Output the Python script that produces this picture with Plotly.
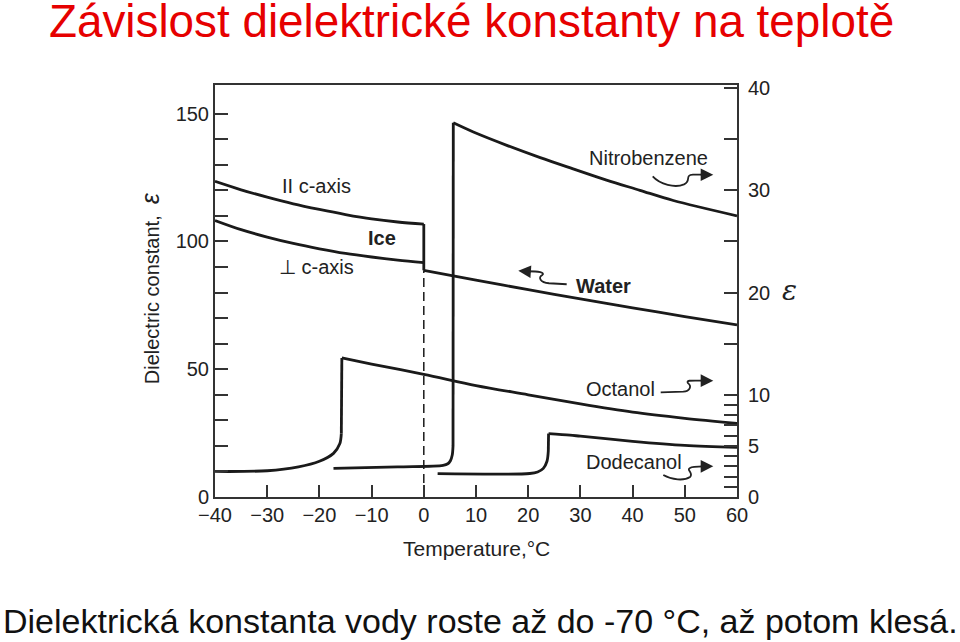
import plotly.graph_objects as go

# ---------------- data ----------------
# Ice (left axis, dielectric constant)
ice_par_t = [-40, -35, -30, -25, -20, -15, -10, -5, 0]
ice_par_e = [123.5, 120.2, 117.3, 114.7, 112.5, 110.5, 108.8, 107.6, 106.8]
ice_perp_t = [-40, -35, -30, -25, -20, -15, -10, -5, 0]
ice_perp_e = [108.2, 104.6, 101.7, 99.2, 97.1, 95.3, 93.9, 92.7, 91.7]
# Water (left axis)
water_t = [0, 10, 20, 30, 40, 50, 60]
water_e = [88.7, 84.9, 81.1, 77.5, 74.0, 70.6, 67.3]
# Nitrobenzene (right axis): solid branch, then liquid branch
nitro_solid_t = [-17.3, -5, 3.7, 4.6, 5.1, 5.45, 5.6]
nitro_solid_e = [2.8, 2.95, 3.1, 3.25, 3.55, 4.1, 5.0]
nitro_liq_t = [5.65, 9.5, 15.9, 22.3, 28.6, 35.0, 41.4, 47.8, 60]
nitro_liq_e = [36.6, 35.7, 34.4, 33.2, 32.1, 31.0, 30.0, 29.0, 27.5]
# Octanol (right axis)
oct_solid_t = [-40, -30, -24, -20, -17.3, -16.1, -15.8]
oct_solid_e = [2.5, 2.57, 2.95, 3.5, 4.27, 5.2, 6.2]
oct_liq_t = [-15.7, -10, 0, 10, 20, 30, 40, 50, 60]
oct_liq_e = [13.6, 13.0, 12.0, 10.9, 10.0, 9.1, 8.3, 7.7, 7.2]
# Dodecanol (right axis)
dod_solid_t = [2.65, 20.3, 21.8, 22.9, 23.6, 23.85]
dod_solid_e = [2.28, 2.3, 2.45, 2.8, 3.5, 4.5]
dod_liq_t = [23.9, 28, 30, 40, 50, 60]
dod_liq_e = [6.2, 6.05, 5.95, 5.45, 5.05, 4.85]

x_ticks = [-40, -30, -20, -10, 0, 10, 20, 30, 40, 50, 60]
x_ticktext = ["\u221240", "\u221230", "\u221220", "\u221210", "0", "10", "20", "30", "40", "50", "60"]
y_left_ticks = [0, 50, 100, 150]
y_left_minor = [10, 20, 30, 40, 60, 70, 80, 90, 110, 120, 130, 140]
y_right_ticks = [0, 5, 10, 20, 30, 40]
y_right_minor = [1, 2, 3, 4, 6, 7, 8, 9, 15, 25, 35]

# ---------------- layout constants ----------------
W, H = 960, 642
X0, X1 = 215, 737      # plot area left/right in px
YB, YT = 497, 84.5     # plot area bottom/top in px
LEFT_MAX = 161.2
RIGHT_MAX = LEFT_MAX / 4

FONT = "Liberation Sans, Arial, sans-serif"
AX = "#333333"
LC = "#1a1a1a"
LW = 2.8


def px(x):
    return (x - X0) / (X1 - X0)


def py(y):
    return (YB - y) / (YB - YT)


fig = go.Figure()


def curve(t, e, axis="y", smooth=True):
    fig.add_trace(go.Scatter(x=t, y=e, mode="lines", yaxis=axis, hoverinfo="skip",
                             line=dict(color=LC, width=LW,
                                       shape="spline" if smooth else "linear",
                                       smoothing=0.9 if smooth else None)))


def jump(t1, e1, t2, e2, axis="y"):
    # vertical/steep connector between two branches (phase transition)
    curve([t1[-1], t2[0]], [e1[-1], e2[0]], axis, smooth=False)


curve(ice_par_t, ice_par_e)
curve(ice_perp_t, ice_perp_e)
curve(water_t, water_e)
jump(ice_par_t, ice_par_e, water_t, water_e)

curve(nitro_solid_t, nitro_solid_e, "y2")
jump(nitro_solid_t, nitro_solid_e, nitro_liq_t, nitro_liq_e, "y2")
curve(nitro_liq_t, nitro_liq_e, "y2")

curve(oct_solid_t, oct_solid_e, "y2")
jump(oct_solid_t, oct_solid_e, oct_liq_t, oct_liq_e, "y2")
curve(oct_liq_t, oct_liq_e, "y2")

curve(dod_solid_t, dod_solid_e, "y2")
jump(dod_solid_t, dod_solid_e, dod_liq_t, dod_liq_e, "y2")
curve(dod_liq_t, dod_liq_e, "y2")

# dashed melting line of ice at 0 °C
fig.add_trace(go.Scatter(x=[0, 0], y=[0, water_e[0]], mode="lines", hoverinfo="skip",
                         line=dict(color=LC, width=1.5, dash="9px,5px")))

tickfont = dict(family=FONT, size=20, color="#222")
fig.update_layout(
    width=W, height=H, autosize=False,
    margin=dict(l=X0, r=W - X1, t=YT, b=H - YB, pad=0),
    paper_bgcolor="white", plot_bgcolor="white",
    showlegend=False,
    font=dict(family=FONT, color="#222"),
    xaxis=dict(range=[-40, 60], tickvals=x_ticks, ticktext=x_ticktext, ticks="inside",
               ticklen=12, tickwidth=2, tickcolor=AX, showline=True, linecolor=AX,
               linewidth=2, mirror=True, showgrid=False, zeroline=False, tickfont=tickfont,
               ticklabelstandoff=-1),
    yaxis=dict(range=[0, LEFT_MAX], tickvals=y_left_ticks, ticks="inside", ticklen=13,
               tickwidth=2, tickcolor=AX, showline=True, linecolor=AX, linewidth=2,
               mirror=True, showgrid=False, zeroline=False, tickfont=tickfont,
               minor=dict(tickvals=y_left_minor, ticks="inside", ticklen=13, tickwidth=2,
                          tickcolor=AX, showgrid=False)),
    yaxis2=dict(range=[0, RIGHT_MAX], tickvals=y_right_ticks, overlaying="y", side="right",
                ticks="inside", ticklen=13, tickwidth=2, tickcolor=AX, showline=True,
                linecolor=AX, linewidth=2, showgrid=False, zeroline=False, tickfont=tickfont,
                ticklabelstandoff=5,
                minor=dict(tickvals=y_right_minor, ticks="inside", ticklen=13, tickwidth=2,
                           tickcolor=AX, showgrid=False)),
)

ann = []


def text(x, y, s, size=20, bold=False, color="#222", angle=0, family=FONT):
    if bold:
        s = "<b>" + s + "</b>"
    ann.append(dict(x=px(x), y=py(y), xref="paper", yref="paper", text=s, showarrow=False,
                    xanchor="center", yanchor="middle", textangle=angle,
                    font=dict(family=family, size=size, color=color)))


# titles
text(471.5, 21, "Závislost dielektrické konstanty na teplotě", size=45.8, color="#e60000")
text(480, 621, "Dielektrická konstanta vody roste až do -70 °C, až potom klesá.", size=34, color="#111")
# axis titles
text(476, 549, "Temperature,°C", size=21)
text(150, 288, "Dielectric constant,  <i><span style='font-size:25px'>ε</span></i>", size=20, angle=-90)
text(789, 290, "<i>ε</i>", size=28, family="DejaVu Serif, serif")
# curve labels
text(316, 186, "II c-axis", size=20)
text(316, 267, "⊥ c-axis", size=20)
text(382, 238, "Ice", size=20, bold=True)
text(648, 158, "Nitrobenzene", size=20)
text(603, 286, "Water", size=20, bold=True)
text(620, 389, "Octanol", size=20)
text(634, 462, "Dodecanol", size=20)


def arrowhead(x, y, dx, dy):
    ann.append(dict(x=px(x), y=py(y), xref="paper", yref="paper", ax=dx, ay=dy,
                    axref="pixel", ayref="pixel", showarrow=True, arrowhead=2,
                    arrowsize=1.4, arrowwidth=1.8, arrowcolor="#222", standoff=0, text=""))


arrowhead(713.3, 174.3, -14, 0)
arrowhead(518.3, 270.5, 14, 1)
arrowhead(713.3, 380.5, -14, 0)
arrowhead(713.3, 466.3, -14, 0)

fig.update_layout(annotations=ann)


def path(cmds):
    out = []
    for c in cmds:
        if isinstance(c, str):
            out.append(c)
        else:
            out.append("%.5f,%.5f" % (px(c[0]), py(c[1])))
    return " ".join(out)


squiggles = [
    ["M", (652.7, 176), "C", (660, 184), (675, 188), (684, 184), "C", (692, 180), (684, 175), (693, 174.3), "L", (703, 174.3)],
    ["M", (566.7, 284), "L", (549, 283), "C", (540, 282), (538, 277), (542, 275), "C", (546, 272), (538, 271), (528, 271)],
    ["M", (660.7, 392.3), "L", (683.3, 391.5), "C", (690, 391), (692, 386), (688, 383), "C", (686, 380), (690, 380.3), (703, 380.5)],
    ["M", (663.3, 475), "C", (672, 480), (684, 481), (690, 477), "C", (694, 473), (686, 470), (690, 468), "C", (692, 466.5), (695, 466.3), (703, 466.3)],
]
fig.update_layout(shapes=[dict(type="path", xref="paper", yref="paper", path=path(s),
                               line=dict(color="#222", width=1.8)) for s in squiggles])

fig.write_html("out.html", config={"displayModeBar": False},
               post_script="document.body.style.margin='0';document.body.style.overflow='hidden';")
